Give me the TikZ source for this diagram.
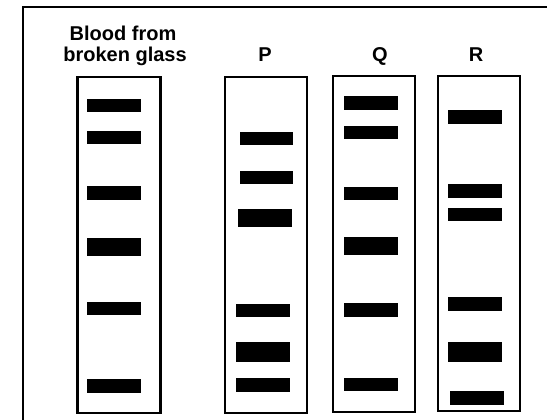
\documentclass[tikz,border=0pt]{standalone}
\usepackage{fontspec}
\setmainfont{Liberation Sans}
\begin{document}
\begin{tikzpicture}[x=1pt,y=-1pt,
  lanebox/.style={draw=black,line width=2.2pt},
  frame/.style={draw=black,line width=1.8pt},
  band/.style={fill=black},
  lbl/.style={font=\bfseries\fontsize{20}{22}\selectfont,anchor=base,inner sep=0pt}]
\useasboundingbox (0,0) rectangle (547,420);
\begin{scope}
\clip (0,0) rectangle (547,420);
\draw[frame] (23,7) rectangle (600,460);
\end{scope}
% labels
\node[lbl] (t1) at (123,41) {Blood from};
\node[lbl] (t2) at (125,62) {broken glass};
\node[lbl] (tp) at (265,62) {P};
\node[lbl] (tq) at (380,62) {Q};
\node[lbl] (tr) at (476,62) {R};
% lane boxes
\draw[lanebox] (77.5,77) rectangle (160.5,413);
\draw[lanebox] (225,77) rectangle (307,413);
\draw[lanebox] (333,76) rectangle (415,412);
\draw[lanebox] (438,76) rectangle (520,411);
% lane 1 bands
\foreach \a/\b in {99/112,131/144,186/200,238/256,302/315,379/393}
  \fill[band] (86.5,\a) rectangle (141.3,\b);
% lane P bands
\foreach \a/\b/\l/\r in {132/145/240/293,171/184/240/293,209/227/238/292,304/317/236/290,342/362/236/290,378/392/236/290}
  \fill[band] (\l,\a) rectangle (\r,\b);
% lane Q bands
\foreach \a/\b in {96/110,126/139,187/200,237/255,303/317,378/391}
  \fill[band] (344,\a) rectangle (398,\b);
% lane R bands
\foreach \a/\b/\l/\r in {110/124/448/502,184/198/448/502,208/221/448/502,297/311/448/502,342/362/448/502,391/405/450/504}
  \fill[band] (\l,\a) rectangle (\r,\b);
\end{tikzpicture}
\end{document}
